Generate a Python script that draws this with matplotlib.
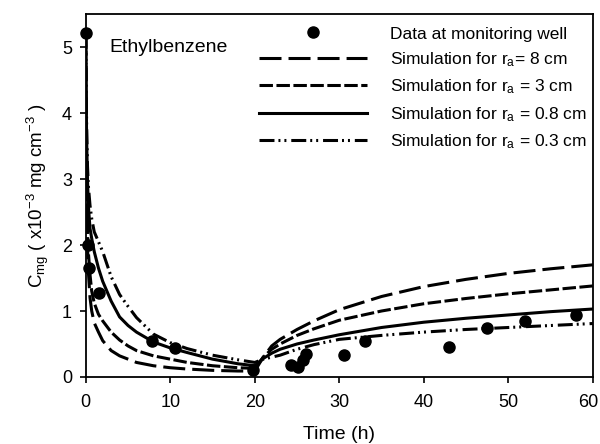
import matplotlib
matplotlib.use("Agg")
import matplotlib.pyplot as plt
import matplotlib.transforms as mtransforms
from matplotlib.lines import Line2D

plt.rcParams['font.family'] = ['Liberation Sans', 'DejaVu Sans']
plt.rcParams['mathtext.fontset'] = 'custom'
plt.rcParams['mathtext.rm'] = 'Liberation Sans'
plt.rcParams['mathtext.it'] = 'Liberation Sans:italic'
plt.rcParams['mathtext.bf'] = 'Liberation Sans:bold'

# observed data at monitoring well
t_obs = [0, 0.25, 0.35, 1.6, 7.8, 10.6, 19.8, 24.3, 25.1, 25.7, 26.1, 30.5, 33.1, 43.0, 47.5, 52.0, 58.0]
c_obs = [5.22, 2.0, 1.65, 1.27, 0.54, 0.44, 0.10, 0.18, 0.15, 0.26, 0.35, 0.34, 0.55, 0.45, 0.74, 0.85, 0.94]

# simulations
t_sim = [0, 0.05, 0.1, 0.2, 0.3, 0.5, 0.7, 1, 1.5, 2, 3, 4, 5, 6, 8, 10, 12, 15, 18, 20,
         21, 22, 23, 25, 27, 30, 35, 40, 45, 50, 55, 60]
c_8cm = [5.2, 3.5, 2.7, 2.0, 1.6, 1.2, 1.0, 0.82, 0.68, 0.55, 0.4, 0.32, 0.27, 0.22, 0.17, 0.14, 0.12, 0.1, 0.09, 0.09,
         0.3, 0.47, 0.57, 0.72, 0.85, 1.02, 1.22, 1.37, 1.48, 1.57, 1.64, 1.70]
c_3cm = [5.2, 3.8, 3.0, 2.3, 1.9, 1.55, 1.3, 1.12, 0.95, 0.85, 0.68, 0.56, 0.47, 0.4, 0.32, 0.27, 0.22, 0.17, 0.14, 0.13,
         0.3, 0.42, 0.5, 0.63, 0.73, 0.86, 1.0, 1.11, 1.19, 1.26, 1.32, 1.38]
c_08cm = [5.2, 4.2, 3.6, 3.0, 2.6, 2.25, 2.1, 1.9, 1.65, 1.45, 1.15, 0.91, 0.78, 0.68, 0.53, 0.44, 0.37, 0.27, 0.2, 0.17,
          0.28, 0.36, 0.42, 0.5, 0.56, 0.64, 0.75, 0.83, 0.89, 0.94, 0.99, 1.03]
c_03cm = [5.2, 4.4, 3.8, 3.2, 2.9, 2.6, 2.4, 2.2, 2.05, 1.9, 1.52, 1.25, 1.07, 0.9, 0.65, 0.52, 0.43, 0.33, 0.26, 0.22,
          0.27, 0.3, 0.33, 0.42, 0.49, 0.57, 0.63, 0.68, 0.72, 0.75, 0.78, 0.81]

fig = plt.figure(figsize=(6, 4.44), dpi=100)
ax = fig.add_axes([0.143, 0.151, 0.845, 0.817])

lw = 2.2
ls_long = (0, (7.2, 2.3))
ls_short = (0, (4.4, 1.15))
ls_dd = (0, (4.9, 1.3, 0.65, 1.3, 0.65, 1.6))

ax.plot(t_sim, c_8cm, color='black', lw=lw, linestyle=ls_long)
ax.plot(t_sim, c_3cm, color='black', lw=lw, linestyle=ls_short)
ax.plot(t_sim, c_08cm, color='black', lw=lw, linestyle='-')
ax.plot(t_sim, c_03cm, color='black', lw=lw, linestyle=ls_dd)
ax.plot(t_obs, c_obs, 'o', color='black', markersize=8, clip_on=False, zorder=5)

ax.set_xlim(0, 60)
ax.set_ylim(0, 5.5)
ax.set_xticks([0, 10, 20, 30, 40, 50, 60])
ax.set_yticks([0, 1, 2, 3, 4, 5])
ax.tick_params(direction='out', length=4, width=1.2, labelsize=13)
ax.tick_params(axis='x', pad=8)
ax.tick_params(axis='y', pad=6)
last = ax.get_xticklabels()[-1]
last.set_transform(last.get_transform() + mtransforms.ScaledTranslation(-5 / 100, 0, fig.dpi_scale_trans))
for s in ax.spines.values():
    s.set_linewidth(1.3)

ax.set_xlabel('Time (h)', fontsize=14, labelpad=11)
ax.set_ylabel(r'C$_{\mathregular{mg}}$ ( x10$^{\mathregular{-3}}$ mg cm$^{\mathregular{-3}}$ )', fontsize=13.5, labelpad=8)

ax.text(0.047, 0.909, 'Ethylbenzene', transform=ax.transAxes, fontsize=14, va='center')

handles = [
    Line2D([], [], marker='o', color='black', linestyle='none', markersize=8),
    Line2D([], [], color='black', lw=lw, linestyle=ls_long),
    Line2D([], [], color='black', lw=lw, linestyle=ls_short),
    Line2D([], [], color='black', lw=lw, linestyle='-'),
    Line2D([], [], color='black', lw=lw, linestyle=ls_dd),
]
labels = [
    'Data at monitoring well',
    r'Simulation for r$_{\mathregular{a}}$= 8 cm',
    r'Simulation for r$_{\mathregular{a}}$ = 3 cm',
    r'Simulation for r$_{\mathregular{a}}$ = 0.8 cm',
    r'Simulation for r$_{\mathregular{a}}$ = 0.3 cm',
]
ax.legend(handles, labels, loc='upper right', bbox_to_anchor=(1.012, 1.0), frameon=False,
          fontsize=12.5, handlelength=6.2, handletextpad=1.3, labelspacing=0.5,
          borderaxespad=0.3)

fig.savefig('out.png', dpi=100)
